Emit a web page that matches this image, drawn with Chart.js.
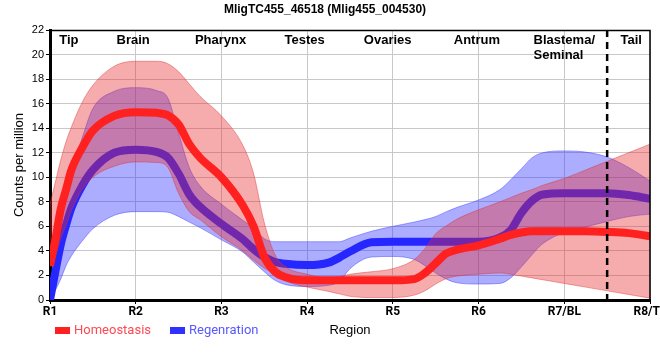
<!DOCTYPE html>
<html><head><meta charset="utf-8">
<script src="https://cdn.jsdelivr.net/npm/chart.js@4.4.1/dist/chart.umd.min.js"></script>
<style>html,body{margin:0;padding:0;background:#fff}</style>
</head><body>
<canvas id="c" width="660" height="360"></canvas>
<script>
const chartTitle = 'MligTC455_46518 (Mlig455_004530)';
const yAxisTitle = 'Counts per million';
const xAxisTitle = 'Region';
const regionTicks = ['R1', 'R2', 'R3', 'R4', 'R5', 'R6', 'R7/BL', 'R8/TL'];
const regionNames = ['Tip', 'Brain', 'Pharynx', 'Testes', 'Ovaries', 'Antrum', 'Blastema/\nSeminal', 'Tail'];
const regionNameAnchor = [0.22, 0.97, 1.99, 2.97, 3.94, 4.98, 6.0, 6.78];
const tailBoundary = 6.5;
const seriesNames = ['Homeostasis', 'Regenration'];

// positions along the body axis (R1 = 0 ... R8 = 7)
const samplePos = [0, 0.0625, 0.125, 0.1875, 0.25, 0.375, 0.5, 0.75, 1, 1.25, 1.375, 1.5, 1.625, 1.75,
  2, 2.25, 2.375, 2.5, 2.625, 2.75, 3, 3.25, 3.375, 3.5, 3.75, 4, 4.25, 4.375, 4.5, 4.625, 4.75,
  5, 5.25, 5.375, 5.5, 5.625, 5.75, 6, 6.25, 6.5, 6.75, 7];

const homeoMean = [2.8, 4.9, 7.4, 9.0, 10.6, 12.4, 13.8, 15.0, 15.3, 15.25, 15.05, 14.3, 12.7, 11.6,
  10.0, 7.7, 6.0, 3.5, 2.3, 1.85, 1.6, 1.6, 1.6, 1.6, 1.6, 1.6, 1.7, 2.2, 3.0, 3.8, 4.1,
  4.45, 5.0, 5.3, 5.5, 5.6, 5.6, 5.6, 5.6, 5.55, 5.45, 5.2];
const homeoHigh = [7.8, 9.6, 11.4, 12.9, 14.1, 16.1, 17.5, 19.05, 19.45, 19.45, 19.25, 18.6, 17.6, 16.6,
  15.0, 12.6, 10.3, 6.3, 3.7, 2.7, 2.1, 1.8, 1.9, 2.1, 2.3, 2.55, 3.3, 4.2, 5.4, 6.05, 6.6,
  7.35, 8.0, 8.35, 8.7, 9.0, 9.35, 9.9, 10.6, 11.3, 12.0, 12.7];
const homeoLow = [2.7, 3.6, 5.0, 6.1, 7.3, 9.0, 10.0, 10.9, 11.25, 11.2, 10.8, 8.7, 7.2, 6.55,
  5.15, 4.0, 3.25, 2.6, 2.1, 1.55, 1.05, 0.7, 0.5, 0.3, 0.2, 0.2, 0.4, 0.75, 1.3, 1.75, 1.95,
  2.1, 2.2, 2.1, 1.95, 1.8, 1.65, 1.35, 1.05, 0.75, 0.45, 0.15];

const regenMean = [0, 2.3, 4.5, 6.1, 7.5, 9.3, 10.6, 12.0, 12.25, 12.05, 11.6, 10.3, 8.6, 7.6,
  6.2, 4.95, 4.15, 3.5, 3.1, 2.95, 2.85, 3.05, 3.45, 3.95, 4.7, 4.75, 4.75, 4.75, 4.75, 4.75, 4.75,
  4.75, 5.1, 5.7, 7.1, 8.1, 8.6, 8.7, 8.7, 8.7, 8.55, 8.25];
const regenHigh = [1.0, 3.5, 6.0, 9.0, 10.6, 13.2, 15.6, 17.0, 17.3, 17.05, 16.45, 13.6, 10.8, 9.3,
  7.8, 6.5, 5.85, 5.0, 4.75, 4.75, 4.75, 4.75, 4.75, 5.05, 5.6, 6.0, 6.35, 6.55, 6.8, 7.2, 7.55,
  8.15, 9.0, 9.8, 10.7, 11.6, 12.0, 12.15, 12.05, 11.65, 10.8, 9.7];
const regenLow = [0, 0.8, 1.7, 2.8, 3.6, 4.8, 5.8, 6.9, 7.2, 7.2, 7.15, 6.8, 6.35, 5.9,
  4.9, 3.9, 3.1, 2.3, 1.6, 1.25, 1.1, 1.2, 1.5, 2.55, 3.5, 3.55, 3.3, 2.8, 2.2, 1.7, 1.4,
  1.3, 1.35, 1.8, 2.7, 3.7, 4.6, 5.5, 5.95, 6.4, 6.8, 7.0];

const toPts = arr => arr.map((v, i) => ({x: samplePos[i], y: v}));

const RED = 'rgb(255,32,32)';
const BLUE = 'rgb(38,38,255)';
const RED_BAND = 'rgba(232,40,40,0.39)';
const BLUE_BAND = 'rgba(40,40,255,0.38)';

const common = {pointRadius: 0, pointHoverRadius: 0, cubicInterpolationMode: 'monotone'};

const datasets = [
  Object.assign({label: seriesNames[0], data: toPts(homeoMean), borderColor: RED, borderWidth: 8,
    fill: false, order: 0, legendColor: RED, legendText: 'rgb(255,72,84)', isMain: true}, common),
  Object.assign({label: 'hHigh', data: toPts(homeoHigh), borderColor: 'rgba(220,50,50,0.45)', borderWidth: 1,
    backgroundColor: RED_BAND, fill: 2, order: 1}, common),
  Object.assign({label: 'hLow', data: toPts(homeoLow), borderColor: 'rgba(220,50,50,0.45)', borderWidth: 1,
    fill: false, order: 1}, common),
  Object.assign({label: seriesNames[1], data: toPts(regenMean), borderColor: BLUE, borderWidth: 8,
    fill: false, order: 2, legendColor: 'rgb(48,48,255)', legendText: 'rgb(88,88,255)', isMain: true}, common),
  Object.assign({label: 'rHigh', data: toPts(regenHigh), borderColor: 'rgba(60,60,255,0.45)', borderWidth: 1,
    backgroundColor: BLUE_BAND, fill: 5, order: 3}, common),
  Object.assign({label: 'rLow', data: toPts(regenLow), borderColor: 'rgba(60,60,255,0.45)', borderWidth: 1,
    fill: false, order: 3}, common)
];

const decor = {
  id: 'decor',
  afterDatasetsDraw(chart) {
    const {ctx, chartArea: a, scales: {x}} = chart;
    const px = x.getPixelForValue(tailBoundary);
    ctx.save();
    ctx.strokeStyle = '#000';
    ctx.lineWidth = 2.5;
    ctx.setLineDash([7, 5]);
    ctx.beginPath();
    ctx.moveTo(px, a.top);
    ctx.lineTo(px, a.bottom);
    ctx.stroke();
    ctx.restore();
  },
  afterDraw(chart) {
    const {ctx, chartArea: a, scales: {x}} = chart;
    ctx.save();
    // top / right frame
    ctx.strokeStyle = '#000';
    ctx.lineWidth = 1.5;
    ctx.beginPath();
    ctx.moveTo(a.left, a.top + 0.5);
    ctx.lineTo(a.right, a.top + 0.5);
    ctx.lineTo(a.right, a.bottom);
    ctx.stroke();
    // region names
    ctx.fillStyle = '#000';
    ctx.font = 'bold 13px "Liberation Sans", Arial, sans-serif';
    ctx.textBaseline = 'middle';
    regionNames.forEach((name, i) => {
      const lines = name.split('\n');
      const cx = x.getPixelForValue(regionNameAnchor[i]);
      const w0 = ctx.measureText(lines[0]).width;
      lines.forEach((ln, j) => {
        ctx.textAlign = 'left';
        ctx.fillText(ln, cx - w0 / 2, a.top + 10 + j * 15);
      });
    });
    // legend
    let lx = 55;
    const ly = 330.5;
    ctx.font = '13px Roboto, "Liberation Sans", sans-serif';
    ctx.textAlign = 'left';
    chart.data.datasets.filter(d => d.isMain).forEach(d => {
      ctx.fillStyle = d.legendColor;
      ctx.fillRect(lx, ly - 3.5, 15, 7);
      ctx.fillStyle = d.legendText;
      ctx.fillText(d.label, lx + 19, ly);
      lx += 19 + ctx.measureText(d.label).width + 19;
    });
    ctx.restore();
  }
};

new Chart(document.getElementById('c'), {
  type: 'line',
  data: {datasets},
  plugins: [decor],
  options: {
    responsive: false,
    animation: false,
    devicePixelRatio: 1,
    layout: {padding: {left: 0, right: 10, top: 0, bottom: 0}},
    plugins: {
      legend: {display: false},
      tooltip: {enabled: false},
      title: {
        display: true, text: chartTitle, color: '#000',
        font: {family: '"Liberation Sans", Arial, sans-serif', size: 12, weight: 'bold'},
        padding: {top: 2, bottom: 13.6}
      }
    },
    scales: {
      x: {
        type: 'linear', min: 0, max: 7,
        afterFit: s => { s.height = 60; s.paddingLeft = 0; s.paddingRight = 0; },
        ticks: {
          stepSize: 1, autoSkip: false, maxRotation: 0, padding: 1, color: '#000',
          font: {family: 'Roboto, sans-serif', size: 12, weight: 'bold'},
          callback: v => regionTicks[v]
        },
        grid: {color: '#c8c8c8', tickColor: '#000', tickLength: 4, lineWidth: 1},
        border: {display: true, color: '#000', width: 3},
        title: {
          display: true, text: xAxisTitle, color: '#000',
          font: {family: '"Liberation Sans", Arial, sans-serif', size: 13},
          padding: {top: 0, bottom: 22}
        }
      },
      y: {
        min: 0, max: 22,
        afterFit: s => { s.width = 50; },
        ticks: {
          stepSize: 2, padding: 2, color: '#000',
          font: {family: '"Liberation Sans", Arial, sans-serif', size: 11}
        },
        grid: {color: '#c8c8c8', tickColor: '#000', tickLength: 4, lineWidth: 1},
        border: {display: true, color: '#000', width: 3},
        title: {
          display: true, text: yAxisTitle, color: '#000',
          font: {family: '"Liberation Sans", Arial, sans-serif', size: 13},
          padding: {top: 12, bottom: 0}
        }
      }
    }
  }
});
</script>
</body></html>
